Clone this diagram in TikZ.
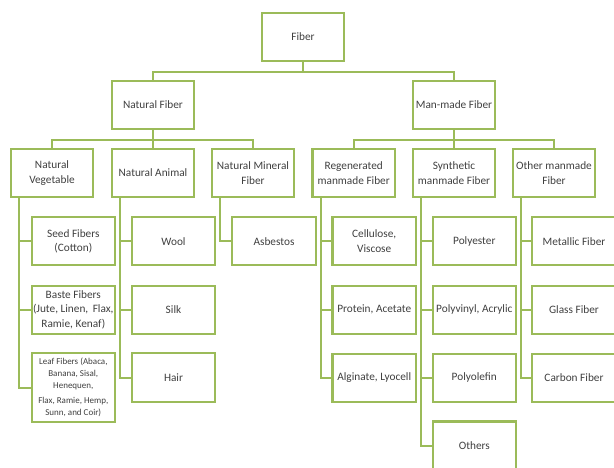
\documentclass[tikz,border=0pt]{standalone}
\usepackage{fontspec}
\setmainfont{Carlito}
\definecolor{grn}{HTML}{9BBB59}
\definecolor{txt}{HTML}{404040}
\begin{document}
\begin{tikzpicture}[x=1pt,y=-1pt,
  box/.style={draw=grn, line width=2.2pt, fill=white, minimum width=82.5pt,
    minimum height=48pt, inner sep=1pt, align=center, text=txt,
    font=\fontsize{11.3}{14.5}\selectfont},
  leafbox/.style={box, minimum width=83.3pt},
  conn/.style={draw=grn, line width=2pt}]
\useasboundingbox (0,0) rectangle (614,467);
\clip (0,0) rectangle (614,467);
\fill[white] (0,0) rectangle (614,467);
% level 1-2
\node[box] (fiber) at (303,37) {Fiber};
\node[box] (natf) at (153,105) {Natural Fiber};
\node[box] (manf) at (454,105) {Man-made Fiber};
% level 3
\node[box] (nveg) at (52,173) {Natural\\Vegetable};
\node[box] (nani) at (153,173) {Natural Animal};
\node[box] (nmin) at (253,173) {Natural Mineral\\Fiber};
\node[box] (regen) at (353.7,173) {Regenerated\\manmade Fiber};
\node[box] (synth) at (454,173) {Synthetic\\manmade Fiber};
\node[box] (other) at (554,173) {Other manmade\\Fiber};
% level 4
\node[leafbox] (seed) at (73.3,241.2) {Seed Fibers\\(Cotton)};
\node[leafbox] (baste) at (73.3,309.7) {Baste Fibers\\(Jute, Linen, \,Flax,\\Ramie, Kenaf)};
\node[leafbox, minimum height=68.4pt, font=\fontsize{9}{11.7}\selectfont] (leaf) at (73.3,387.5)
  {Leaf Fibers (Abaca,\\Banana, Sisal,\\Henequen,\\[4pt]Flax, Ramie, Hemp,\\Sunn, and Coir)};
\node[leafbox] (wool) at (173.5,241.2) {Wool};
\node[leafbox] (silk) at (173.5,309.7) {Silk};
\node[leafbox, minimum height=49pt] (hair) at (173.5,377.8) {Hair};
\node[leafbox] (asb) at (274,241.2) {Asbestos};
\node[leafbox] (cell) at (374.2,241.2) {Cellulose,\\Viscose};
\node[leafbox] (prot) at (374.2,309.7) {Protein, Acetate};
\node[leafbox] (algi) at (374.2,377.8) {Alginate, Lyocell};
\node[leafbox] (poly) at (474.3,241.2) {Polyester};
\node[leafbox] (pvin) at (474.3,309.7) {Polyvinyl, Acrylic};
\node[leafbox] (pole) at (474.3,377.8) {Polyolefin};
\node[leafbox] (oth) at (474.3,445.5) {Others};
\node[leafbox] (metal) at (574,241.2) {Metallic Fiber};
\node[leafbox] (glass) at (574,309.7) {Glass Fiber};
\node[leafbox] (carb) at (574,377.8) {Carbon Fiber};
% connectors levels 1-3
\draw[conn] (fiber.south) -- ++(0,9.5) -| (natf.north);
\draw[conn] (fiber.south) -- ++(0,9.5) -| (manf.north);
\foreach \c in {nveg,nani,nmin} \draw[conn] (natf.south) -- ++(0,10) -| (\c.north);
\foreach \c in {regen,synth,other} \draw[conn] (manf.south) -- ++(0,10) -| (\c.north);
% connectors level 4
\coordinate (v1) at ([xshift=-33pt]nveg.south);
\coordinate (v2) at ([xshift=-33pt]nani.south);
\coordinate (v3) at ([xshift=-33pt]nmin.south);
\coordinate (v4) at ([xshift=-33pt]regen.south);
\coordinate (v5) at ([xshift=-33pt]synth.south);
\coordinate (v6) at ([xshift=-33pt]other.south);
\foreach \c in {seed,baste,leaf} \draw[conn] (v1) |- (\c.west);
\foreach \c in {wool,silk,hair} \draw[conn] (v2) |- (\c.west);
\draw[conn] (v3) |- (asb.west);
\foreach \c in {cell,prot,algi} \draw[conn] (v4) |- (\c.west);
\foreach \c in {poly,pvin,pole,oth} \draw[conn] (v5) |- (\c.west);
\foreach \c in {metal,glass,carb} \draw[conn] (v6) |- (\c.west);
\end{tikzpicture}
\end{document}
